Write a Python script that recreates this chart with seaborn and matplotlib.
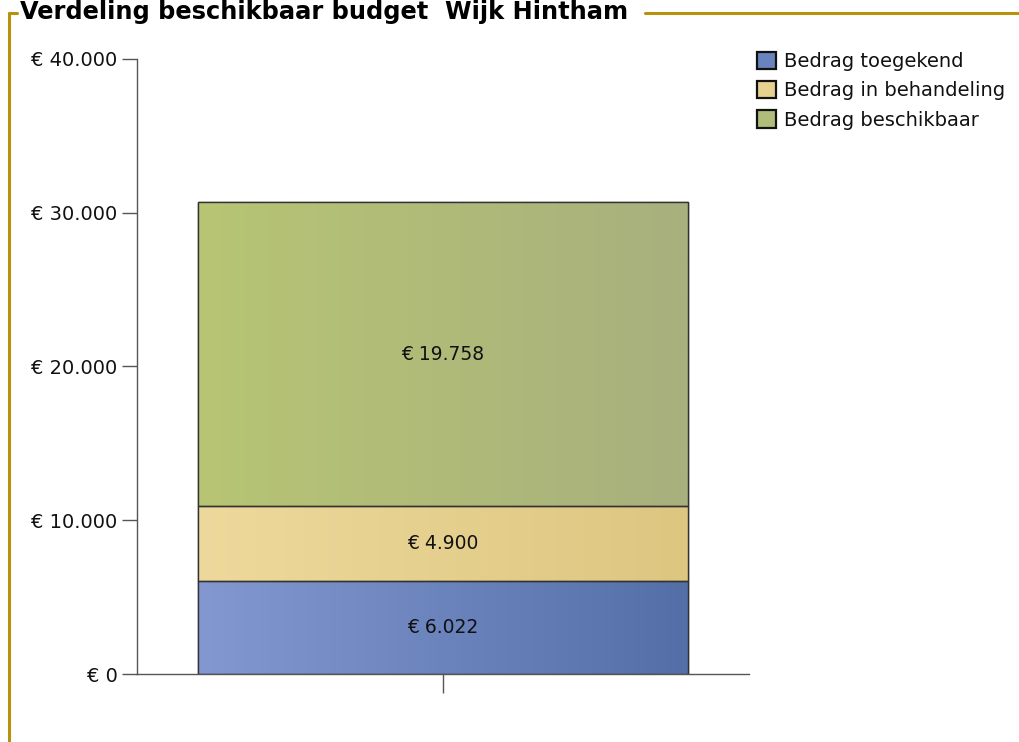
import numpy as np
import pandas as pd
import matplotlib
matplotlib.use("Agg")
import matplotlib.pyplot as plt
from matplotlib.lines import Line2D
from matplotlib.patches import Patch
from matplotlib.colors import LinearSegmentedColormap
from matplotlib.ticker import FuncFormatter
import seaborn as sns

# Budget data for the district
title = "Verdeling beschikbaar budget  Wijk Hintham"
categories = ["Bedrag toegekend", "Bedrag in behandeling", "Bedrag beschikbaar"]
values = [6022, 4900, 19758]
group = [""]
y_ticks = [0, 10000, 20000, 30000, 40000]

# gradient colours (left, right) and legend colours per segment
grad_left = ["#8398d1", "#eed99c", "#b7c574"]
grad_right = ["#546fa8", "#ddc680", "#a8b07e"]
legend_colors = ["#6b83bd", "#e6d28e", "#b0bc7a"]
frame_color = "#b8920c"

sns.set_theme(style="white")
plt.rcParams["font.family"] = ["DejaVu Sans"]

fig = plt.figure(figsize=(10.19, 7.42), dpi=100)
W, H = 1019, 742
ax = fig.add_axes([137 / W, 1 - 674 / H, (749 - 137) / W, (674 - 59) / H])

# stacked bars built from cumulative sums, drawn back to front
cum = np.cumsum(values)
df = pd.DataFrame({"x": group * len(values), "total": cum, "seg": categories})
for i in reversed(range(len(values))):
    sns.barplot(data=df.iloc[[i]], x="x", y="total", color=legend_colors[i],
                width=0.8, edgecolor="#333333", linewidth=1.0, ax=ax,
                saturation=1)

# replace flat fills with horizontal gradients clipped to each bar
patches = list(ax.patches)
order = list(reversed(range(len(values))))
for patch, i in zip(patches, order):
    x0, y0 = patch.get_x(), cum[i] - values[i]
    w = patch.get_width()
    patch.set_y(y0)
    patch.set_height(values[i])
    cmap = LinearSegmentedColormap.from_list("g", [grad_left[i], grad_right[i]])
    grad = np.linspace(0, 1, 256).reshape(1, -1)
    im = ax.imshow(grad, cmap=cmap, aspect="auto",
                   extent=[x0, x0 + w, y0, y0 + values[i]], zorder=patch.get_zorder() + 0.1)
    im.set_clip_path(patch)
    ax.add_patch(plt.Rectangle((x0, y0), w, values[i], fill=False,
                               edgecolor="#333333", linewidth=1.0,
                               zorder=patch.get_zorder() + 0.2))
    label = "€ " + f"{values[i]:,}".replace(",", ".")
    ax.text(x0 + w / 2, y0 + values[i] / 2, label, ha="center", va="center",
            fontsize=13.5, color="#111111", zorder=5)

ax.set_xlim(-0.5, 0.5)
ax.set_ylim(0, 40000)
ax.set_yticks(y_ticks)
ax.yaxis.set_major_formatter(FuncFormatter(
    lambda v, p: "€ " + f"{int(v):,}".replace(",", ".")))
ax.set_xticks([0])
ax.set_xticklabels([""])
ax.set_xlabel("")
ax.set_ylabel("")
for s in ["top", "right"]:
    ax.spines[s].set_visible(False)
for s in ["left", "bottom"]:
    ax.spines[s].set_color("#555555")
    ax.spines[s].set_linewidth(1.0)
ax.tick_params(axis="y", direction="out", length=11, width=1, color="#555555",
               labelsize=14, pad=3, left=True, labelcolor="#111111")
ax.tick_params(axis="x", direction="out", length=14, width=1, color="#555555",
               bottom=True)

# legend
handles = [Patch(facecolor=c, edgecolor="#111111", linewidth=1.6) for c in legend_colors]
leg = fig.legend(handles, categories, loc="upper left",
                 bbox_to_anchor=(757 / W, 1 - 52 / H),
                 frameon=False, fontsize=14, handlelength=1.0, handleheight=1.0,
                 handletextpad=0.4, labelspacing=0.5, borderaxespad=0,
                 borderpad=0)
for t in leg.get_texts():
    t.set_color("#111111")

# title and frame
fig.text(20 / W, 1 - 12 / H, title, ha="left", va="center", fontsize=17.4,
         fontweight="bold", color="#000000")
fig.add_artist(Line2D([8.5 / W, 8.5 / W], [1 - 13 / H, 0], color=frame_color, lw=2.2))
fig.add_artist(Line2D([8.5 / W, 17 / W], [1 - 13 / H, 1 - 13 / H], color=frame_color, lw=2.2))
fig.add_artist(Line2D([645 / W, 1.0], [1 - 13 / H, 1 - 13 / H], color=frame_color, lw=2.2))

fig.savefig("out.png", dpi=100)
